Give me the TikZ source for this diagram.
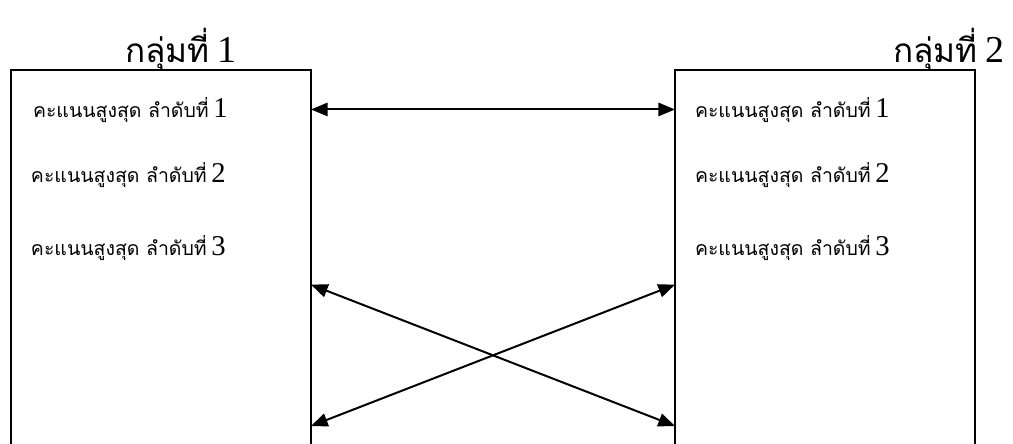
\documentclass[tikz,border=0pt]{standalone}
\usepackage{fontspec}
\setmainfont{Liberation Serif}
\newfontfamily\thaifont[Script=Thai]{Loma}
\newfontfamily\numfont{Liberation Serif}
\usetikzlibrary{arrows.meta}
\usetikzlibrary{positioning}
\newcommand{\rowtext}[1]{{\fontsize{14.6}{18}\thaifont คะแนนสูงสุด ลำดับที่}\hspace{3.5pt}{\fontsize{21.5}{24}\numfont #1}}
\newcommand{\grptext}[1]{{\fontsize{25}{30}\thaifont กลุ่มที่}\hspace{6pt}{\fontsize{28.5}{32}\numfont #1}}
\tikzset{x=0.75pt,y=-0.75pt,
    every node/.style={inner sep=0pt,outer sep=0pt},
    group/.style={
        draw,
        line width=1.5pt,
        minimum width=225pt,
        minimum height=300pt},
    score/.style={anchor=base west},
    title/.style={anchor=base west},
    link/.style={
        draw,
        {Triangle[length=12.5pt,width=10pt]}-{Triangle[length=12.5pt,width=10pt]},
        line width=1.5pt}}

\begin{document}
\begin{tikzpicture}
        \useasboundingbox (0,0) rectangle (1013,443);
        \node[group,anchor=north west] (grpA) at (11,70) {};
        \node[group,anchor=north west] (grpB) at (675,70) {};

        \node[title] (titleA) at (125,62) {\grptext{1}};
        \node[title] (titleB) at (893,62) {\grptext{2}};

        \node[score] (a1) at (33,117) {\rowtext{1}};
        \node[score] (a2) at (31,182) {\rowtext{2}};
        \node[score] (a3) at (31,255) {\rowtext{3}};
        \node[score] (b1) at (695,117) {\rowtext{1}};
        \node[score] (b2) at (695,182) {\rowtext{2}};
        \node[score] (b3) at (695,255) {\rowtext{3}};

        \coordinate (pa1) at ([yshift=-29.6pt]grpA.north east);
        \coordinate (pb1) at ([yshift=-29.6pt]grpB.north west);
        \coordinate (pa2) at ([yshift=-161pt]grpA.north east);
        \coordinate (pb2) at ([yshift=-161pt]grpB.north west);
        \coordinate (pa3) at ([yshift=-267pt]grpA.north east);
        \coordinate (pb3) at ([yshift=-267pt]grpB.north west);

        \draw[link] (pa1) -- (pb1);
        \draw[link] (pa2) -- (pb3);
        \draw[link] (pa3) -- (pb2);
    \end{tikzpicture}
\end{document}
